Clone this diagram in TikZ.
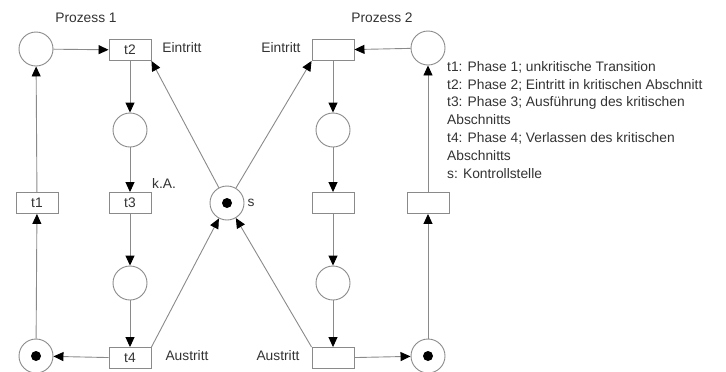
\documentclass[tikz,border=0pt]{standalone}
\usepackage{fontspec}
\setmainfont{Liberation Sans}
\usetikzlibrary{arrows.meta,positioning}
\definecolor{edge}{HTML}{8A8A8A}
\definecolor{txt}{HTML}{333333}
\tikzset{
  place/.style={circle, draw=edge, line width=0.9bp, minimum size=34bp, inner sep=0pt},
  marked/.style={place, path picture={\fill[black] (path picture bounding box.center) circle (5bp);}},
  trans/.style={rectangle, draw=edge, line width=0.9bp, minimum width=42bp, minimum height=21bp, inner sep=0pt, text=txt},
  lbl/.style={text=txt, inner sep=0pt},
  arc/.style={-{Triangle[length=10bp,width=9bp,color=black]}, line width=0.9bp, draw=edge},
}

\begin{document}
\begin{tikzpicture}[x=1bp,y=-1bp,font=\fontsize{13.8bp}{17.8bp}\selectfont]
  \useasboundingbox (0,0) rectangle (726,371);
  % prozess 1
  \node[lbl](pz1) at (86,18){Prozess 1};
  \node[place](p1) at (36,49){};
  \node[trans](t2) at (130,50){t2};
  \node[place](p2) at (130,130){};
  \node[trans](t3) at (130,203){t3};
  \node[place](p3) at (130,283){};
  \node[trans](t4) at (130,358){t4};
  \node[marked](p4) at (36,356){};
  \node[trans](t1) at (37,203){t1};
  \node[lbl](ein1) at (182,48){Eintritt};
  \node[lbl](ka) at (164,183){k.A.};
  \node[lbl](aus1) at (187,356){Austritt};
  % kontrollstelle
  \node[marked](s) at (227,203){};
  \node[lbl](slbl) at (251,203){s};
  % prozess 2
  \node[lbl](pz2) at (382,18){Prozess 2};
  \node[place](q1) at (428,48){};
  \node[trans](e2) at (333,50){};
  \node[place](q2) at (333,130){};
  \node[trans](m2) at (333,203){};
  \node[place](q3) at (333,283){};
  \node[trans](a2) at (333,358){};
  \node[marked](q4) at (428,356){};
  \node[trans](r1) at (428,203){};
  \node[lbl](ein2) at (281,48){Eintritt};
  \node[lbl](aus2) at (278,356){Austritt};
  % legende
  \node[lbl,align=left,anchor=north west](leg) at (447,61){t1: Phase 1; unkritische Transition\\t2: Phase 2; Eintritt in kritischen Abschnitt\\t3: Phase 3; Ausführung des kritischen\\Abschnitts\\t4: Phase 4; Verlassen des kritischen\\Abschnitts\\s: Kontrollstelle};
  % kanten prozess 1
  \draw[arc] (p1) -- (t2);
  \draw[arc] (t2) -- (p2);
  \draw[arc] (p2) -- (t3);
  \draw[arc] (t3) -- (p3);
  \draw[arc] (p3) -- (t4);
  \draw[arc] (t4) -- (p4);
  \draw[arc] (p4) -- (t1);
  \draw[arc] (t1) -- (p1);
  % kanten prozess 2
  \draw[arc] (q1) -- (e2);
  \draw[arc] (e2) -- (q2);
  \draw[arc] (q2) -- (m2);
  \draw[arc] (m2) -- (q3);
  \draw[arc] (q3) -- (a2);
  \draw[arc] (a2) -- (q4);
  \draw[arc] (q4) -- (r1);
  \draw[arc] (r1) -- (q1);
  % kontrollstelle
  \draw[arc] (s) -- (t2.south east);
  \draw[arc] (s) -- (e2.south west);
  \draw[arc] (t4.north east) -- (s);
  \draw[arc] (a2.north west) -- (s);
\end{tikzpicture}
\end{document}
